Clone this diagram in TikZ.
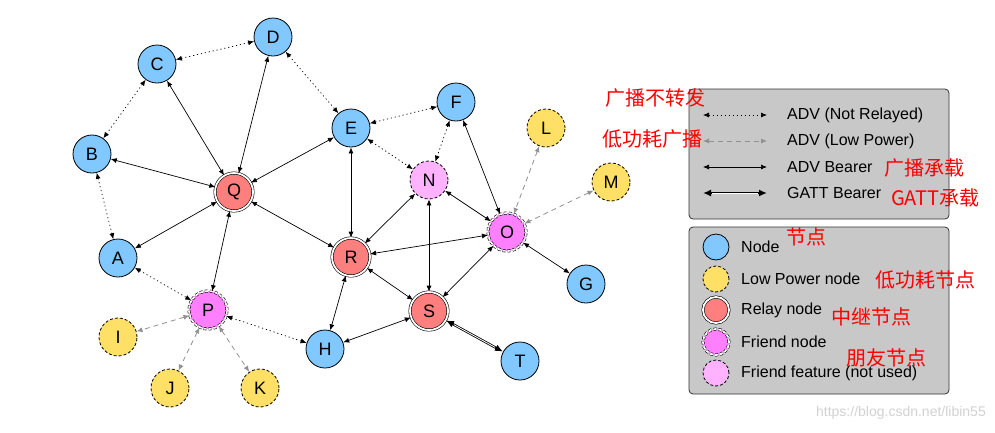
\documentclass[tikz,border=0pt]{standalone}
\usepackage{fontspec}
\setmainfont{Liberation Sans}
\newfontfamily\cjk{Noto Sans CJK SC}
\usetikzlibrary{arrows.meta}
\definecolor{nblue}{HTML}{80C8FF}
\definecolor{nyellow}{HTML}{FFE066}
\definecolor{nred}{HTML}{FF7F7F}
\definecolor{npink}{HTML}{FF80FF}
\definecolor{nlpink}{HTML}{FFB3FF}
\definecolor{lgray}{HTML}{C8C8C8}
\definecolor{dgray}{HTML}{909090}
\tikzset{
  nd/.style={circle, draw=black, line width=0.8pt, minimum size=38pt, inner sep=0pt, font=\fontsize{18}{18}\selectfont},
  plain/.style={nd, fill=nblue},
  lowp/.style={nd, fill=nyellow, dash pattern=on 3pt off 2pt},
  relay/.style={nd, fill=nred, line width=0.6pt, double=white, double distance=1.8pt},
  friend/.style={nd, fill=npink, line width=0.6pt, double=white, double distance=1.8pt, dash pattern=on 3pt off 2pt},
  ffeat/.style={nd, fill=nlpink, dash pattern=on 3pt off 2pt},
  tip/.tip={Latex[length=6pt,width=5pt]},
  gtip/.tip={Latex[length=8pt,width=7pt]},
  bear/.style={tip-tip, line width=0.7pt, black},
  notrel/.style={bear, dash pattern=on 1.2pt off 2.8pt},
  lowpw/.style={tip-tip, line width=0.8pt, dgray, dash pattern=on 5pt off 4pt},
  gattout/.style={gtip-gtip, line width=2.4pt, black},
  gattin/.style={white, line width=0.8pt, shorten <=9pt, shorten >=9pt},
  legbox/.style={draw=black!80, fill=lgray, rounded corners=4pt, line width=0.8pt},
  legtxt/.style={anchor=west, font=\fontsize{16}{16}\selectfont, inner sep=0pt},
  legsym/.style={minimum size=26pt},
  red/.style={anchor=west, text=red, font=\cjk\fontsize{20}{20}\selectfont, inner sep=0pt}
}
\begin{document}
\begin{tikzpicture}[x=1pt,y=-1pt]
\useasboundingbox (0,0) rectangle (995,432);
% nodes
\node[plain] (A) at (118,258) {A};
\node[plain] (B) at (92,154) {B};
\node[plain] (C) at (157,64) {C};
\node[plain] (D) at (273,37) {D};
\node[plain] (E) at (351,128) {E};
\node[plain] (F) at (456,102) {F};
\node[plain] (G) at (586,284) {G};
\node[plain] (H) at (325,349) {H};
\node[lowp] (I) at (118,337) {I};
\node[lowp] (J) at (170,388) {J};
\node[lowp] (K) at (260,388) {K};
\node[lowp] (L) at (546,128) {L};
\node[lowp] (M) at (611,182) {M};
\node[ffeat] (N) at (429,180) {N};
\node[friend] (O) at (507,232) {O};
\node[friend] (P) at (208,310) {P};
\node[relay] (Q) at (234,192) {Q};
\node[relay] (R) at (351,257) {R};
\node[relay] (S) at (429,311) {S};
\node[plain] (T) at (520,361) {T};
% not relayed
\draw[notrel] (C) -- (D);
\draw[notrel] (C) -- (B);
\draw[notrel] (D) -- (E);
\draw[notrel] (B) -- (A);
\draw[notrel] (E) -- (F);
\draw[notrel] (E) -- (N);
\draw[notrel] (F) -- (N);
\draw[notrel] (A) -- (P);
\draw[notrel] (P) -- (H);
% low power
\draw[lowpw] (L) -- (O);
\draw[lowpw] (M) -- (O);
\draw[lowpw] (P) -- (I);
\draw[lowpw] (P) -- (J);
\draw[lowpw] (P) -- (K);
% bearers
\draw[bear] (C) -- (Q);
\draw[bear] (D) -- (Q);
\draw[bear] (B) -- (Q);
\draw[bear] (E) -- (Q);
\draw[bear] (E) -- (R);
\draw[bear] (F) -- (O);
\draw[bear] (Q) -- (A);
\draw[bear] (Q) -- (P);
\draw[bear] (Q) -- (R);
\draw[bear] (N) -- (R);
\draw[bear] (N) -- (O);
\draw[bear] (N) -- (S);
\draw[bear] (O) -- (R);
\draw[bear] (O) -- (S);
\draw[bear] (O) -- (G);
\draw[bear] (R) -- (S);
\draw[bear] (R) -- (H);
\draw[bear] (S) -- (H);
\draw[gattout] (S) -- (T);
\draw[gattin] (S) -- (T);
% legend 1
\draw[legbox] (689,89) rectangle (949,219);
\coordinate (l1a) at (703,115); \coordinate (l1b) at (767,115);
\coordinate (l2a) at (703,141); \coordinate (l2b) at (767,141);
\coordinate (l3a) at (703,167); \coordinate (l3b) at (767,167);
\coordinate (l4a) at (703,193); \coordinate (l4b) at (767,193);
\draw[notrel] (l1a) -- (l1b);
\draw[lowpw] (l2a) -- (l2b);
\draw[bear] (l3a) -- (l3b);
\draw[gattout] (l4a) -- (l4b);
\draw[gattin] (l4a) -- (l4b);
\node[legtxt] (t1) at (787,115) {ADV (Not Relayed)};
\node[legtxt] (t2) at (787,141) {ADV (Low Power)};
\node[legtxt] (t3) at (787,167) {ADV Bearer};
\node[legtxt] (t4) at (787,193) {GATT Bearer};
% legend 2
\draw[legbox] (689,227) rectangle (949,394);
\node[plain, legsym] (s1) at (716,247) {};
\node[lowp, legsym] (s2) at (716,279) {};
\node[relay, legsym] (s3) at (716,310) {};
\node[friend, legsym] (s4) at (716,342) {};
\node[ffeat, legsym] (s5) at (716,373) {};
\node[legtxt] (u1) at (741,247) {Node};
\node[legtxt] (u2) at (741,279) {Low Power node};
\node[legtxt] (u3) at (741,310) {Relay node};
\node[legtxt] (u4) at (741,342) {Friend node};
\node[legtxt] (u5) at (741,373) {Friend feature (not used)};
% red annotations
\node[red] (c1) at (605,98) {广播不转发};
\node[red] (c2) at (602,139) {低功耗广播};
\node[red] (c3) at (884,168) {广播承载};
\node[red] (c4) at (891,198) {GATT承载};
\node[red] (c5) at (786,237) {节点};
\node[red] (c6) at (875,280) {低功耗节点};
\node[red] (c7) at (831,317) {中继节点};
\node[red] (c8) at (846,358) {朋友节点};
% watermark
\node[anchor=east, text=black!18, font=\fontsize{14}{14}\selectfont, inner sep=0pt] (wm) at (986,413) {https://blog.csdn.net/libin55};
\end{tikzpicture}
\end{document}
